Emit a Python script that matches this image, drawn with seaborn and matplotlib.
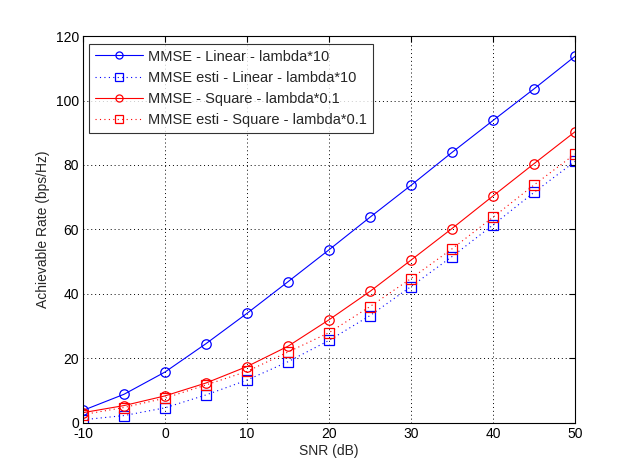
import matplotlib
matplotlib.use("Agg")
import matplotlib.pyplot as plt
import seaborn as sns
import pandas as pd

snr = [-10, -5, 0, 5, 10, 15, 20, 25, 30, 35, 40, 45, 50]
mmse_linear = [3.9, 8.9, 15.8, 24.6, 34.0, 43.8, 53.7, 63.8, 73.7, 83.9, 93.8, 103.6, 113.7]
esti_linear = [1.0, 2.3, 4.7, 8.7, 13.3, 19.0, 25.6, 33.3, 42.3, 51.6, 61.4, 71.5, 81.1]
mmse_square = [3.2, 5.4, 8.4, 12.4, 17.5, 23.8, 32.0, 40.8, 50.5, 60.3, 70.4, 80.4, 90.3]
esti_square = [2.6, 4.8, 7.7, 11.8, 16.0, 22.0, 28.0, 36.1, 44.8, 54.0, 63.8, 73.8, 83.4]
labels = ["MMSE - Linear - lambda*10", "MMSE esti - Linear - lambda*10",
          "MMSE - Square - lambda*0.1", "MMSE esti - Square - lambda*0.1"]
xticks = [-10, 0, 10, 20, 30, 40, 50]
yticks = [0, 20, 40, 60, 80, 100, 120]

sns.set_style("white")
plt.rcParams['font.family'] = ['Liberation Sans', 'DejaVu Sans']
plt.rcParams['font.size'] = 10
plt.rcParams['axes.unicode_minus'] = False

fig = plt.figure(figsize=(6.35, 4.75), dpi=100)
ax = fig.add_axes([0.1307, 0.1095, 0.7748, 0.8147])

series = [mmse_linear, esti_linear, mmse_square, esti_square]
colors = ["#0000ff", "#0000ff", "#ff0000", "#ff0000"]
styles = ["-", (0, (1, 3)), "-", (0, (1, 3))]
markers = ["o", "s", "o", "s"]
for vals, lab, c, ls, m in zip(series, labels, colors, styles, markers):
    df = pd.DataFrame({"SNR": snr, "Rate": vals})
    sns.lineplot(data=df, x="SNR", y="Rate", ax=ax, color=c, linestyle=ls,
                 linewidth=0.8, marker=m, markersize=6.8,
                 markerfacecolor="none", markeredgecolor=c, markeredgewidth=0.9,
                 label=lab)

ax.set_xlim(-10, 50)
ax.set_ylim(0, 120)
ax.set_xticks(xticks)
ax.set_yticks(yticks)
ax.grid(True, color="black", linestyle=(0, (1, 3)), linewidth=0.7)
ax.tick_params(direction="in", top=True, right=True, length=4, width=0.8,
               labelsize=10, colors="black", pad=3)
for s in ax.spines.values():
    s.set_color("black")
    s.set_linewidth(0.8)
ax.set_xlabel("SNR (dB)", fontsize=10, labelpad=2)
ax.set_ylabel("Achievable Rate (bps/Hz)", fontsize=10, labelpad=4)

leg = ax.legend(loc="upper left", bbox_to_anchor=(6 / 492, 1 - 8 / 387),
                borderaxespad=0, fontsize=10.5, markerscale=0.75,
                frameon=True, fancybox=False, edgecolor="black",
                handlelength=3.3, labelspacing=0.5,
                borderpad=0.38, handletextpad=0.4)
leg.get_frame().set_linewidth(0.8)

fig.savefig("out.png", dpi=100)
